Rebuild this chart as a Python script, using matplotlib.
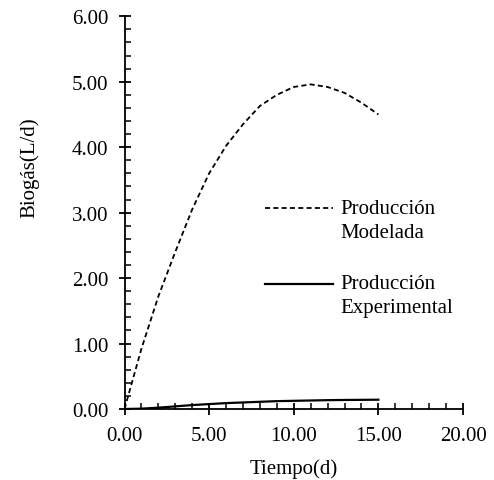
import matplotlib

matplotlib.use("Agg")
import matplotlib.pyplot as plt
from matplotlib.lines import Line2D
from matplotlib.ticker import MultipleLocator, FormatStrFormatter

# days
tiempo = [0, 1, 2, 3, 4, 5, 6, 7, 8, 9, 10, 11, 12, 13, 14, 15]
# modelled biogas production (L/d)
modelada = [0.0, 0.92, 1.72, 2.40, 3.05, 3.60, 4.02, 4.35, 4.63, 4.80,
            4.92, 4.96, 4.92, 4.83, 4.68, 4.50]
# experimental biogas production (L/d)
experimental = [0.0, 0.005, 0.02, 0.04, 0.06, 0.075, 0.09, 0.10, 0.11, 0.12,
                0.125, 0.13, 0.135, 0.138, 0.14, 0.142]

plt.rcParams["font.family"] = ["Liberation Serif", "DejaVu Serif"]
FS = 15

W, H = 494, 481
fig = plt.figure(figsize=(W / 100, H / 100), dpi=100)
ax = fig.add_axes([124.5 / W, 1 - 410 / H, (463 - 124.5) / W, (410 - 17.3) / H])

ax.plot(tiempo, modelada, color="black", lw=1.3, dashes=(2.8, 1.8))
ax.plot(tiempo, experimental, color="black", lw=1.6)

ax.set_xlim(0, 20)
ax.set_ylim(0, 6)
ax.xaxis.set_major_locator(MultipleLocator(5))
ax.xaxis.set_minor_locator(MultipleLocator(1))
ax.yaxis.set_major_locator(MultipleLocator(1))
ax.yaxis.set_minor_locator(MultipleLocator(0.2))
ax.xaxis.set_major_formatter(FormatStrFormatter("%.2f"))
ax.yaxis.set_major_formatter(FormatStrFormatter("%.2f"))

for side in ["top", "right"]:
    ax.spines[side].set_visible(False)
for side in ["left", "bottom"]:
    ax.spines[side].set_linewidth(1.3)

ax.tick_params(which="major", direction="inout", length=9, width=1.3, labelsize=FS)
ax.tick_params(axis="y", which="major", pad=7)
ax.tick_params(axis="x", which="major", pad=8)
ax.tick_params(which="minor", direction="in", length=4, width=1.1)

fig.text(30 / W, 1 - 168 / H, "Biogás(L/d)", rotation=90, ha="center", va="center", fontsize=FS)
fig.text(294 / W, 1 - 474 / H, "Tiempo(d)", ha="center", va="baseline", fontsize=FS)

# legend drawn by hand
fig.add_artist(Line2D([265 / W, 333 / W], [1 - 209 / H, 1 - 209 / H], color="black",
                      lw=1.3, dashes=(2.8, 1.8), transform=fig.transFigure))
fig.text(340 / W, 1 - 210 / H, "Producción", ha="left", va="center", fontsize=FS)
fig.text(340 / W, 1 - 234 / H, "Modelada", ha="left", va="center", fontsize=FS)
fig.add_artist(Line2D([265 / W, 333 / W], [1 - 285 / H, 1 - 285 / H], color="black",
                      lw=1.6, transform=fig.transFigure))
fig.text(340 / W, 1 - 285 / H, "Producción", ha="left", va="center", fontsize=FS)
fig.text(340 / W, 1 - 309 / H, "Experimental", ha="left", va="center", fontsize=FS)

fig.savefig("out.png", dpi=100)
